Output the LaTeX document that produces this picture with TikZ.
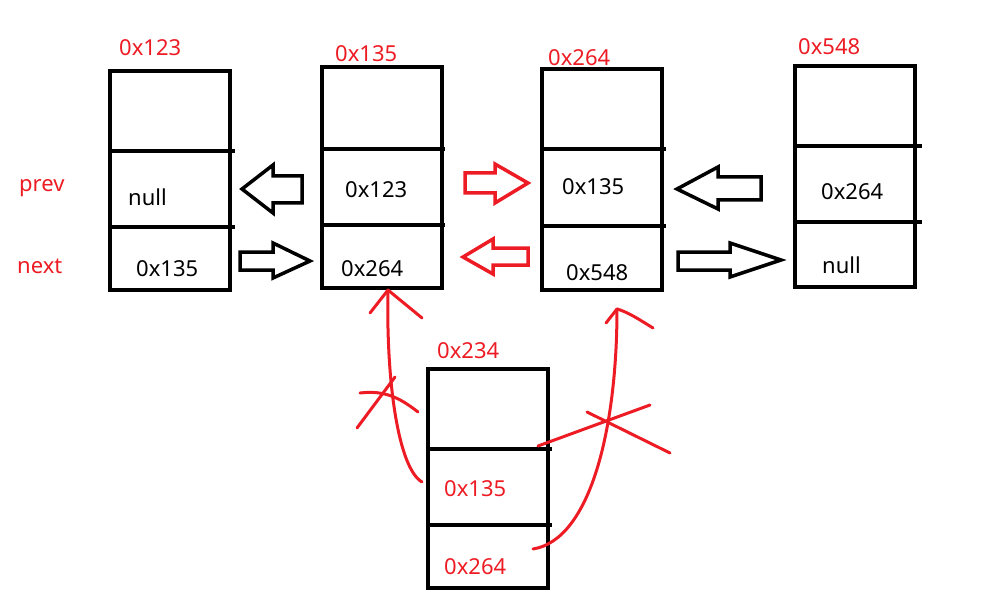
\documentclass[tikz,border=0pt]{standalone}
\usepackage{fontspec}
\setmainfont{Noto Sans}
\definecolor{pred}{RGB}{237,28,36}
\begin{document}
\begin{tikzpicture}[x=1pt,y=-1pt,
  boxline/.style={line width=4pt},
  txt/.style={anchor=base west,inner sep=0pt,font=\fontsize{22}{22}\selectfont},
  rtxt/.style={txt,text=pred},
  barrow/.style={line width=3.5pt,line join=miter,fill=white},
  rarrow/.style={barrow,draw=pred},
  redline/.style={draw=pred,line width=3pt,line cap=round,line join=round}]
\useasboundingbox (0,0) rectangle (986,607);
% boxes
\draw[boxline] (110,71) rectangle (230,290);
\draw[boxline] (110,151) -- (235,151) (110,227) -- (235,227);
\draw[boxline] (322,67) rectangle (442,288);
\draw[boxline] (322,149) -- (445,149) (322,225) -- (445,225);
\draw[boxline] (542,69) rectangle (662,290);
\draw[boxline] (542,149) -- (666,149) (542,226) -- (666,226);
\draw[boxline] (795,66) rectangle (915,287);
\draw[boxline] (795,146) -- (922,146) (795,222) -- (922,222);
\draw[boxline] (428,369) rectangle (548,588);
\draw[boxline] (428,449) -- (552,449) (428,525) -- (552,525);
% labels
\node[rtxt] (la) at (119,56) {0x123};
\node[rtxt] (lb) at (335,62) {0x135};
\node[rtxt] (lc) at (548,66) {0x264};
\node[rtxt] (ld) at (798,55) {0x548};
\node[rtxt] (le) at (437,358) {0x234};
\node[rtxt] (prev) at (19,192) {prev};
\node[rtxt] (next) at (17,273) {next};
% contents
\node[txt] (a1) at (128,205) {null};
\node[txt] (a2) at (136,276) {0x135};
\node[txt] (b1) at (345,197) {0x123};
\node[txt] (b2) at (341,276) {0x264};
\node[txt] (c1) at (562,195) {0x135};
\node[txt] (c2) at (566,280) {0x548};
\node[txt] (d1) at (821,200) {0x264};
\node[txt] (d2) at (822,273) {null};
\node[rtxt] (e1) at (444,496) {0x135};
\node[rtxt] (e2) at (444,574) {0x264};
% block arrows
\draw[barrow] (242,189) -- (273,165) -- (273,176) -- (302,176) -- (302,203) -- (273,203) -- (273,213) -- cycle;
\draw[barrow] (310,261) -- (273,243) -- (273,252) -- (240,252) -- (240,270) -- (273,270) -- (273,278) -- cycle;
\draw[rarrow] (528,183) -- (495,164) -- (495,173) -- (465,173) -- (465,193) -- (495,193) -- (495,203) -- cycle;
\draw[rarrow] (463,257) -- (493,239) -- (493,248) -- (528,248) -- (528,265) -- (493,265) -- (493,274) -- cycle;
\draw[barrow] (677,189) -- (718,167) -- (718,177) -- (761,177) -- (761,200) -- (718,200) -- (718,209) -- cycle;
\draw[barrow] (781,260) -- (730,243) -- (730,252) -- (678,252) -- (678,270) -- (730,270) -- (730,277) -- cycle;
% red curves
\coordinate (s1) at (422,482);
\coordinate (t1) at (388,290);
\coordinate (s2) at (533,549);
\coordinate (t2) at (617,309);
\draw[redline] (s1) .. controls (398,468) and (386,380) .. (t1);
\draw[redline] (t1) -- (370,313);
\draw[redline] (t1) .. controls (400,300) and (410,308) .. (422,318);
\draw[redline] (s2) .. controls (590,540) and (617,430) .. (t2);
\draw[redline] (t2) -- (606,323);
\draw[redline] (t2) .. controls (628,312) and (640,320) .. (653,328);
% crosses
\draw[redline] (357,428) -- (395,377);
\draw[redline] (360,393) .. controls (385,390) and (400,398) .. (418,412);
\draw[redline] (538,446) -- (650,405);
\draw[redline] (587,412) -- (670,453);
\end{tikzpicture}
\end{document}
